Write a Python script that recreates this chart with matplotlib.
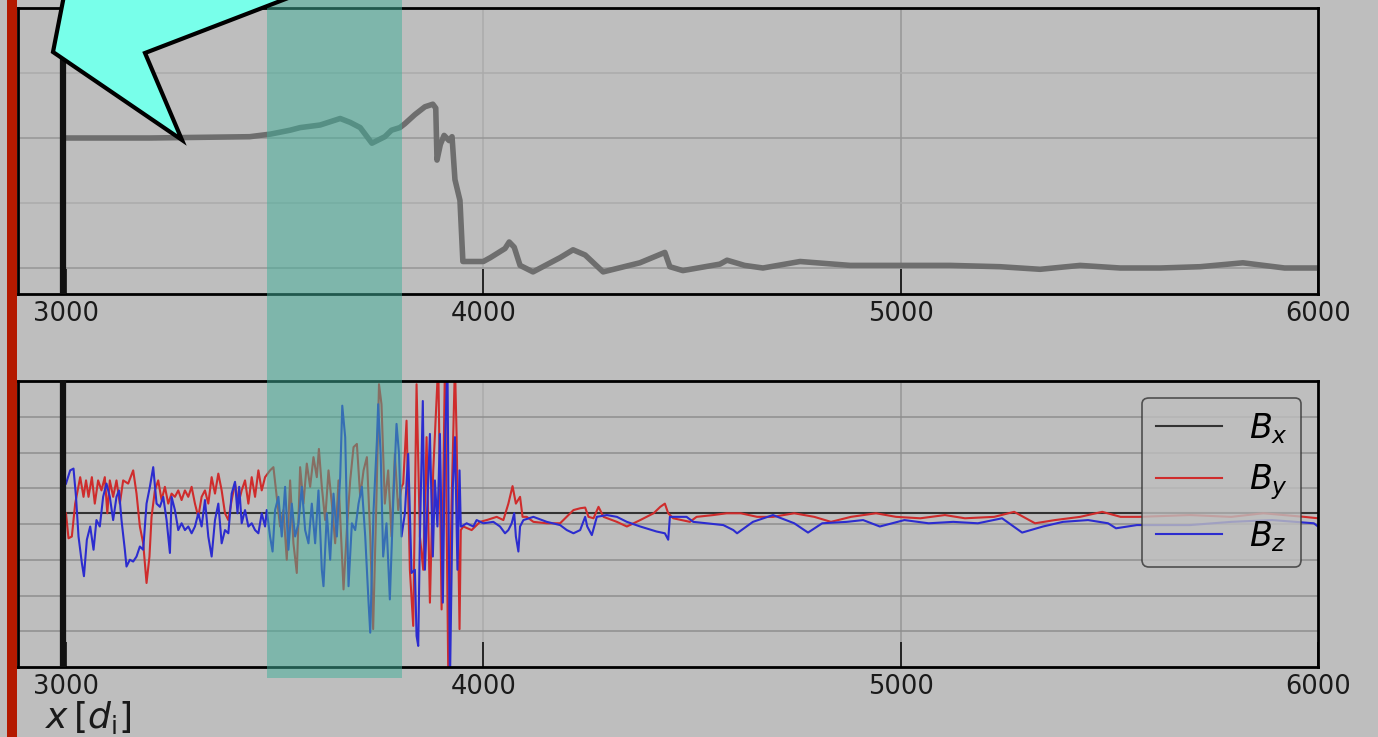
import matplotlib.pyplot as plt
from matplotlib.patches import Polygon, Rectangle
from matplotlib.transforms import blended_transform_factory

# density profile, upper panel
x_n = [3000, 3200, 3440, 3490, 3537, 3561, 3609, 3657, 3681, 3705,
       3733, 3764, 3780, 3800, 3812, 3836, 3860, 3879, 3886, 3889,
       3897, 3906, 3918, 3925, 3932, 3944, 3951, 3968, 4000, 4017,
       4052, 4062, 4074, 4088, 4119, 4184, 4215, 4244, 4287, 4375,
       4435, 4447, 4478, 4567, 4584, 4626, 4670, 4759, 4879, 5000,
       5119, 5238, 5334, 5430, 5526, 5622, 5718, 5820, 5920, 6000]
n = [2.00, 2.00, 2.01, 2.03, 2.06, 2.08, 2.10, 2.15, 2.12, 2.08,
     1.96, 2.01, 2.06, 2.08, 2.11, 2.18, 2.24, 2.26, 2.23, 1.83,
     1.95, 2.02, 1.98, 2.01, 1.68, 1.52, 1.05, 1.05, 1.05, 1.08,
     1.15, 1.20, 1.16, 1.02, 0.97, 1.08, 1.14, 1.10, 0.97, 1.04,
     1.12, 1.01, 0.98, 1.03, 1.06, 1.02, 1.00, 1.05, 1.02, 1.02,
     1.02, 1.01, 0.99, 1.02, 1.00, 1.00, 1.01, 1.04, 1.00, 1.00]

# magnetic field components, lower panel
x_bx = [3000, 6000]
bx = [0.30, 0.30]

x_by = [3000, 3006, 3014, 3022, 3034, 3042, 3048, 3054, 3062, 3069,
        3077, 3085, 3093, 3099, 3105, 3113, 3121, 3129, 3137, 3149,
        3161, 3169, 3177, 3185, 3193, 3200, 3205, 3213, 3221, 3229,
        3237, 3245, 3253, 3261, 3269, 3277, 3285, 3293, 3301, 3309,
        3317, 3325, 3333, 3341, 3349, 3357, 3365, 3373, 3381, 3389,
        3397, 3405, 3413, 3421, 3429, 3437, 3445, 3453, 3461, 3469,
        3477, 3489, 3497, 3505, 3513, 3521, 3529, 3537, 3545, 3553,
        3561, 3569, 3577, 3585, 3593, 3601, 3606, 3613, 3621, 3629,
        3637, 3645, 3653, 3665, 3673, 3681, 3689, 3697, 3705, 3713,
        3721, 3729, 3736, 3744, 3750, 3756, 3764, 3772, 3780, 3788,
        3796, 3804,
        3808, 3816, 3824, 3832, 3840, 3848, 3856, 3864, 3872, 3880,
        3892, 3900, 3908, 3916, 3924, 3932, 3936, 3943, 3946, 3952,
        3972, 3992, 4008, 4032, 4048, 4060, 4070, 4078, 4088, 4094,
        4104, 4120, 4152, 4184, 4216, 4232, 4244, 4252, 4264, 4276,
        4288, 4320, 4344, 4376, 4408, 4424, 4435, 4443, 4455, 4495,
        4511, 4551, 4583,
        4617, 4656, 4694, 4745, 4793, 4833, 4881, 4941, 4989, 5047,
        5106, 5154, 5224, 5272, 5322, 5370, 5430, 5483, 5527, 5571,
        5693, 5792, 5869, 5967, 6000]
by = [0.30, -0.40, -0.35, 0.57, 1.31, 0.76, 1.22, 0.76, 1.31, 0.57,
      1.22, 0.94, 1.31, 0.30, 1.22, 0.76, 1.22, 0.57, 1.22, 1.13,
      1.50, 0.85, -0.07, -0.54, -1.65, -0.91, 0.20, 0.94, 1.22, 0.67,
      1.04, 0.57, 0.85, 0.76, 0.94, 0.67, 0.94, 0.76, 1.04, 0.57,
      0.20, 0.76, 0.94, 0.57, 1.31, 0.85, 1.41, 0.94, 0.30, 0.11,
      0.67, 1.13, 0.57, 0.94, 1.22, 0.57, 1.31, 0.76, 1.50, 0.94,
      1.31, 1.50, 1.59, 0.76, -0.07, 0.39, -1.00, 1.22, -0.54, -1.37,
      1.59, 0.57, 1.69, 1.04, 1.87, 1.31, 2.10, 1.04, 0.11, 1.50,
      0.57, -0.54, 1.22, -1.83, -0.17, 1.22, 2.15, 2.24, 0.76, 1.50,
      1.87, -0.35, -2.94, 0.76, 3.91, 3.35, 0.57, 1.50, -0.35, 1.96,
      0.39, 1.04,
      1.13, 2.89, -1.28, -2.85, 3.91, -0.35, -1.28, 2.43, -2.20, 1.50,
      4.50, -2.39, 4.50, -4.20, 0.57, 4.50, 2.43, -2.94, -0.17, -0.07,
      -0.17, 0.06, 0.11, 0.20, 0.11, 0.57, 1.06, 0.57, 0.76, 0.20,
      0.20, 0.06, 0.02, 0.02, 0.39, 0.44, 0.46, 0.20, 0.16, 0.48,
      0.20, 0.06, -0.07, 0.11, 0.30, 0.48, 0.57, 0.30, 0.16, 0.06,
      0.20, 0.25, 0.30,
      0.30, 0.20, 0.20, 0.30, 0.20, 0.06, 0.20, 0.30, 0.20, 0.16,
      0.25, 0.16, 0.20, 0.34, 0.02, 0.11, 0.20, 0.34, 0.20, 0.20,
      0.25, 0.20, 0.30, 0.20, 0.16]

x_bz = [3000, 3010, 3018, 3024, 3030, 3038, 3043, 3050, 3058, 3066,
        3073, 3081, 3089, 3097, 3105, 3113, 3121, 3127, 3133, 3141,
        3145, 3153, 3161, 3169, 3177, 3185, 3193, 3201, 3209, 3217,
        3225, 3233, 3241, 3249, 3253, 3261, 3269, 3277, 3285, 3293,
        3301, 3309, 3317, 3325, 3333, 3341, 3349, 3357, 3365, 3373,
        3381, 3389, 3397, 3405, 3411, 3415, 3421, 3429, 3437, 3445,
        3453, 3461, 3469, 3477, 3481, 3489, 3495, 3501, 3509, 3517,
        3525, 3533, 3541, 3549, 3557, 3565, 3573, 3581, 3589, 3597,
        3605, 3613, 3617, 3625, 3633, 3641, 3649, 3657, 3662, 3669,
        3677, 3685, 3693, 3701, 3709, 3717, 3725, 3729, 3737, 3745,
        3748, 3754, 3760, 3768, 3776, 3784, 3792, 3798, 3804,
        3812, 3820, 3828, 3836, 3840, 3844, 3848, 3855, 3860, 3866,
        3872, 3879, 3884, 3890, 3896, 3903, 3908, 3914, 3920, 3927,
        3932, 3938, 3943, 3946, 3948, 3960, 3976, 3984, 4000, 4024,
        4040, 4052, 4060, 4068, 4074, 4078, 4084, 4088, 4096, 4120,
        4152, 4184, 4200, 4216, 4232, 4244, 4249, 4260, 4272, 4296,
        4320, 4344, 4376, 4415, 4435, 4443, 4447, 4463, 4487, 4503,
        4535, 4575, 4599,
        4608, 4646, 4694, 4745, 4778, 4812, 4871, 4910, 4950, 5009,
        5067, 5126, 5185, 5243, 5291, 5341, 5389, 5449, 5497, 5516,
        5566, 5693, 5792, 5890, 5990, 6000]
bz = [1.13, 1.50, 1.55, 0.76, -0.35, -1.09, -1.46, -0.44, -0.07, -0.72,
      0.11, -0.07, 0.76, 1.13, 0.76, 0.11, 0.76, 0.94, 0.11, -0.72,
      -1.19, -1.00, -1.05, -0.91, -0.63, -0.72, 0.57, 1.04, 1.59, 0.57,
      0.48, 0.76, 0.11, -0.81, 0.76, 0.39, -0.17, 0.02, -0.17, -0.07,
      -0.26, -0.07, 0.30, -0.07, 0.67, -0.35, -0.91, 0.11, 0.57, -0.54,
      -0.17, -0.26, 0.85, 1.18, 0.30, 1.04, 0.02, 0.39, -0.07, 0.02,
      -0.17, -0.26, 0.30, -0.07, 0.39, -0.35, -0.77, 0.39, 0.76, -0.35,
      1.04, -0.72, 0.57, -0.35, 0.02, 1.04, -0.17, -0.54, 0.57, -0.54,
      0.94, -1.28, -1.74, 0.30, -1.00, 0.85, -0.35, 1.31, 3.31, 2.43,
      -1.74, 0.02, -0.17, 0.57, 1.04, -0.35, -2.20, -3.04, 0.39, 2.33,
      3.35, 1.96, -0.91, 0.02, -2.11, 0.57, 2.80, 1.96, -0.35,
      0.30, 1.96, -1.37, -1.28, -3.13, -3.41, -0.35, 3.44, -1.28, 0.57,
      2.52, -0.91, 1.22, -0.07, 2.52, -2.20, 2.15, 4.50, -4.50, 1.04,
      2.43, -1.28, 1.50, -0.07, -0.07, 0.02, -0.07, 0.11, 0.02, 0.06,
      -0.07, -0.26, -0.17, 0.02, 0.30, -0.35, -0.77, -0.07, 0.11, 0.20,
      0.06, -0.03, -0.17, -0.26, -0.17, 0.20, -0.07, -0.31, 0.20, 0.25,
      0.20, 0.06, -0.07, -0.21, -0.26, -0.44, 0.20, 0.20, 0.20, 0.06,
      0.02, -0.03, -0.17,
      -0.26, 0.06, 0.25, 0.02, -0.24, 0.02, 0.06, 0.11, -0.07, 0.11,
      0.02, 0.06, 0.02, 0.16, -0.24, -0.07, 0.06, 0.11, 0.02, -0.12,
      -0.03, -0.03, 0.06, 0.11, 0.02, -0.07]

xticks = [3000, 4000, 5000, 6000]
xgrid_dark = [5000]
xgrid_light = [4000]
shock_x = 2992
span = (3482, 3805)

bg = '#bebebe'
W, H = 1378, 737

fig = plt.figure(figsize=(W / 100, H / 100), dpi=100, facecolor=bg)
ax1 = fig.add_axes([18 / W, 1 - 294 / H, 1300 / W, 286 / H])
ax2 = fig.add_axes([18 / W, 1 - 667 / H, 1300 / W, 286 / H])

for ax in (ax1, ax2):
    ax.set_facecolor(bg)
    ax.set_xlim(2885, 6000)
    ax.set_xticks(xticks)
    ax.tick_params(axis='x', direction='in', length=18, width=1.1, pad=5,
                   labelsize=18.5, labelcolor='#1a1a1a', color='black')
    ax.tick_params(axis='y', which='both', length=0, labelleft=False)
    for s in ax.spines.values():
        s.set_linewidth(2)
        s.set_color('black')
    for g in xgrid_dark:
        ax.axvline(g, color='#969696', lw=1.1, zorder=0.5)
    for g in xgrid_light:
        ax.axvline(g, color='#ababab', lw=1.1, zorder=0.5)
    ax.axvline(shock_x, color='#111111', lw=4.5, zorder=3)

# upper panel
ax1.set_ylim(0.8, 3.0)
ax1.set_yticks([1, 2, 3])
ax1.set_yticks([1.5, 2.5], minor=True)
ax1.grid(axis='y', which='major', color='#969696', lw=1.1)
ax1.grid(axis='y', which='minor', color='#ababab', lw=1.1)
ax1.set_axisbelow(True)
ax1.plot(x_n, n, color='#6e6e6e', lw=4, solid_joinstyle='round', zorder=2)

# lower panel
ax2.set_ylim(-4, 4)
ax2.set_yticks(range(-3, 4))
ax2.grid(axis='y', which='major', color='#8e8e8e', lw=1.1)
ax2.set_axisbelow(True)
ax2.plot(x_bx, bx, color='#333333', lw=1.5, label=r'$B_x$', zorder=2)
ax2.plot(x_by, by, color='#cf2c2c', lw=1.5, label=r'$B_y$', zorder=2)
ax2.plot(x_bz, bz, color='#2c2ccf', lw=1.5, label=r'$B_z$', zorder=2)
leg = ax2.legend(loc='upper right', fontsize=24, facecolor=bg,
                 edgecolor='#333333', framealpha=0.8, fancybox=True)
leg.get_frame().set_linewidth(1.2)
leg.set_zorder(6)

# shaded interval through both panels
tr = blended_transform_factory(ax2.transData, fig.transFigure)
fig.add_artist(Rectangle((span[0], 1 - 678 / H), span[1] - span[0], 678 / H,
                         transform=tr, facecolor='#40b09a', alpha=0.5,
                         edgecolor='none', zorder=5))

# red bar on the left edge
fig.add_artist(Rectangle((7 / W, 0), 10 / W, 1, transform=fig.transFigure,
                         facecolor='#b41a00', edgecolor='none', zorder=7))

# pointer arrow
arrow_px = [(69, -30), (53, 52), (182, 140), (145, 53), (361, -30)]
arrow = [(px / W, 1 - py / H) for px, py in arrow_px]
fig.add_artist(Polygon(arrow, closed=True, transform=fig.transFigure,
                       facecolor='#78ffea', edgecolor='black', lw=3,
                       joinstyle='miter', zorder=8))

fig.text(45 / W, 1 - 728 / H, r'$x\,[d_\mathrm{i}]$', fontsize=26,
         color='#1a1a1a', ha='left', va='baseline')

fig.savefig('out.png', dpi=100, facecolor=bg)
